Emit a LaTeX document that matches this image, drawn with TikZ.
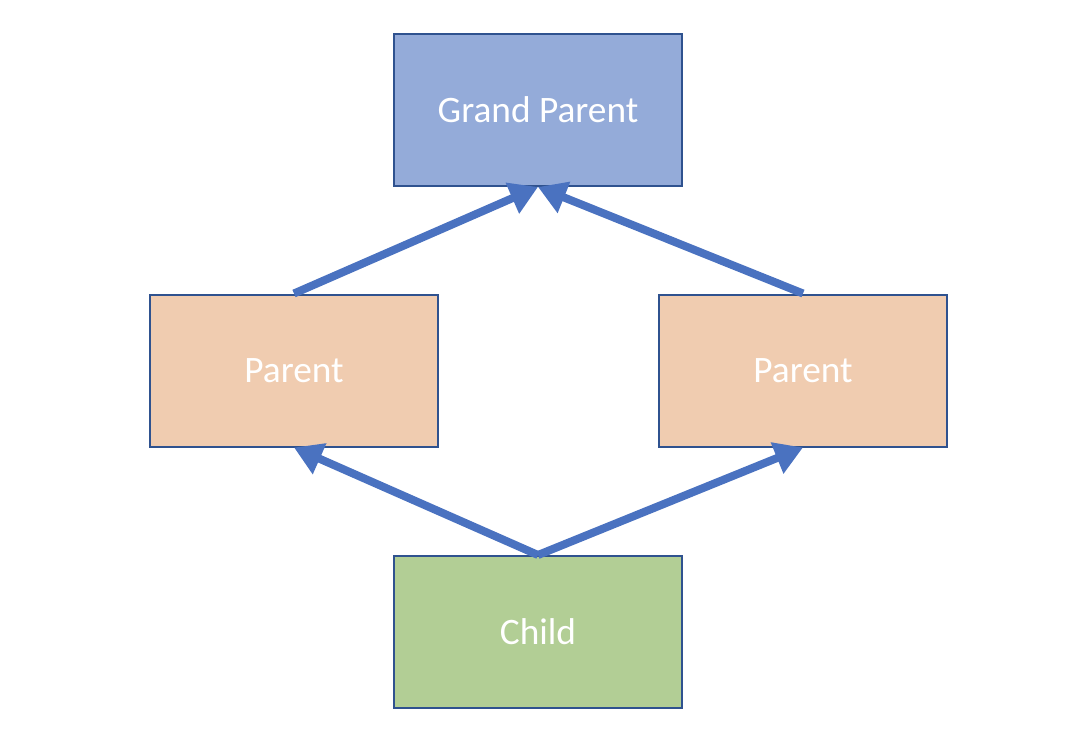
\documentclass[tikz,border=0pt]{standalone}
\usepackage{fontspec}
\setmainfont{Carlito}
\usetikzlibrary{arrows.meta, positioning}

\definecolor{gpfill}{HTML}{94ABD9}
\definecolor{parentfill}{HTML}{F0CCB0}
\definecolor{childfill}{HTML}{B2CE95}
\definecolor{boxline}{HTML}{2F528F}
\definecolor{arrowblue}{HTML}{4A72C0}

\begin{document}
\begin{tikzpicture}[x=0.75pt,y=-0.75pt,
    box/.style={draw=boxline,line width=1.5pt,minimum width=216pt,minimum height=114pt,
      text=white,font=\fontsize{28}{32}\selectfont,inner sep=0pt},
    gpbox/.style={box,fill=gpfill},
    parentbox/.style={box,fill=parentfill},
    childbox/.style={box,fill=childfill},
    link/.style={-{Triangle[length=21pt,width=24pt]},draw=arrowblue,line width=6pt}]

\useasboundingbox (0,0) rectangle (1082,746);

\node[gpbox]     (gp)      at (538,110)   {Grand Parent};
\node[parentbox] (parentl) at (294,370.5) {Parent};
\node[parentbox] (parentr) at (803,370.5) {Parent};
\node[childbox]  (child)   at (538,632)   {Child};

\draw[link] (parentl.north) -- (gp.south);
\draw[link] (parentr.north) -- (gp.south);
\draw[link] (child.north) -- (parentl.south);
\draw[link] (child.north) -- (parentr.south);
\end{tikzpicture}
\end{document}
